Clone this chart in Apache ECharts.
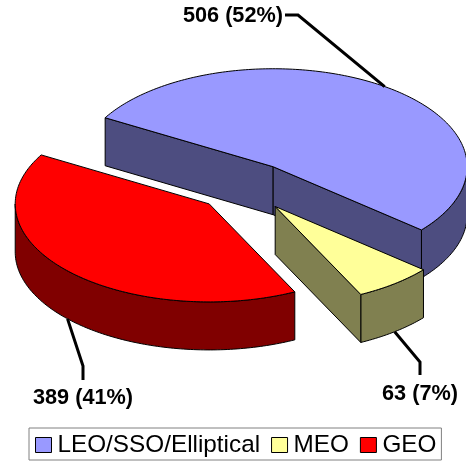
<!DOCTYPE html>
<html>
<head>
<meta charset="utf-8">
<style>html,body{margin:0;padding:0;background:#fff}#chart{width:466px;height:461px}</style>
<script src="https://cdn.jsdelivr.net/npm/echarts@6/dist/echarts.min.js"></script>
</head>
<body>
<div id="chart"></div>
<script>
// Satellite counts by orbit class
const categories = ['LEO/SSO/Elliptical', 'MEO', 'GEO'];
const counts = [506, 63, 389];
const valueLabels = ['506 (52%)', '63 (7%)', '389 (41%)'];
const topColors = ['#9999FF', '#FFFF99', '#FF0000'];
const wallColors = ['#4D4D80', '#808050', '#800000'];

// Projection of the tilted disc
const cx = 245, cy = 187, rx = 194, ry = 98, depth = 48;
const explode = 49;           // radial offset of each slice, measured along x
const startDeg = -60;         // angle clockwise from the far side of the disc
const total = counts.reduce((a, b) => a + b, 0);
const rad = d => d * Math.PI / 180;

// Leader elbows and label anchors, one per slice
const leaderBends = [[[298, 15], [285, 15]], [[420, 362], [420, 375]], [[83, 366], [83, 380]]];
const labelAnchors = [[283, 16, 'right'], [420, 394, 'center'], [83, 398, 'center']];

function sliceAngles(i) {
  let before = 0;
  for (let k = 0; k < i; k++) before += counts[k];
  const a0 = startDeg + before / total * 360;
  return [a0, a0 + counts[i] / total * 360];
}

function renderSlice(i, api) {
  const [a0, a1] = sliceAngles(i);
  const mid = (a0 + a1) / 2;
  const ox = cx + explode * Math.sin(rad(mid));
  const oy = cy - explode * ry / rx * Math.cos(rad(mid));
  const rim = (deg, dz) => [ox + rx * Math.sin(rad(deg)), oy - ry * Math.cos(rad(deg)) + (dz || 0)];
  const arc = (from, to, dz) => {
    const pts = [], n = Math.max(2, Math.ceil(Math.abs(to - from)));
    for (let s = 0; s <= n; s++) pts.push(rim(from + (to - from) * s / n, dz));
    return pts;
  };
  const face = (points, fill) => ({
    type: 'polygon', shape: { points },
    style: { fill, stroke: '#000', lineWidth: 1, lineJoin: 'round' }
  });
  const children = [];

  // outer wall: only the near half of the rim faces the viewer
  const w0 = Math.max(a0, 90), w1 = Math.min(a1, 270);
  if (w1 > w0) children.push(face(arc(w0, w1, 0).concat(arc(w1, w0, depth)), wallColors[i]));

  // cut faces that turn toward the viewer
  if (Math.cos(rad(a0 - 90)) < 0) {
    const p = rim(a0);
    children.push(face([[ox, oy], p, [p[0], p[1] + depth], [ox, oy + depth]], wallColors[i]));
  }
  if (Math.cos(rad(a1 + 90)) < 0) {
    const p = rim(a1);
    children.push(face([[ox, oy], p, [p[0], p[1] + depth], [ox, oy + depth]], wallColors[i]));
  }

  // top face
  children.push(face([[ox, oy]].concat(arc(a0, a1, 0)), topColors[i]));

  // leader line from the rim at the slice's mid angle
  const near = Math.cos(rad(mid)) < 0;
  const anchor = rim(mid, near ? depth : 0);
  children.push({
    type: 'polyline', shape: { points: [anchor].concat(leaderBends[i]) },
    style: { fill: null, stroke: '#000', lineWidth: 3, lineJoin: 'miter' }
  });

  // value label
  const la = labelAnchors[i];
  children.push({
    type: 'text',
    style: {
      text: valueLabels[i], x: la[0], y: la[1], align: la[2], verticalAlign: 'middle',
      fill: '#000', font: 'bold 21.7px "Liberation Sans", Arial, sans-serif'
    }
  });
  return { type: 'group', children };
}

const chart = echarts.init(document.getElementById('chart'), null, { renderer: 'canvas' });
chart.setOption({
  animation: false,
  backgroundColor: '#fff',
  legend: {
    left: 29, top: 428,
    padding: [5, 5, 3, 6],
    itemGap: 11,
    itemWidth: 16, itemHeight: 15,
    icon: 'rect',
    borderColor: '#808080', borderWidth: 1,
    itemStyle: { borderColor: '#000', borderWidth: 1 },
    textStyle: { fontFamily: '"Liberation Sans", Arial, sans-serif', fontSize: 24.3, color: '#000', padding: [0, 0, 0, 1] },
    data: categories
  },
  series: categories.map((name, i) => ({
    type: 'custom',
    name,
    coordinateSystem: 'none',
    silent: true,
    itemStyle: { color: topColors[i] },
    data: [[counts[i]]],
    renderItem: (params, api) => renderSlice(i, api)
  }))
});
</script>
</body>
</html>
